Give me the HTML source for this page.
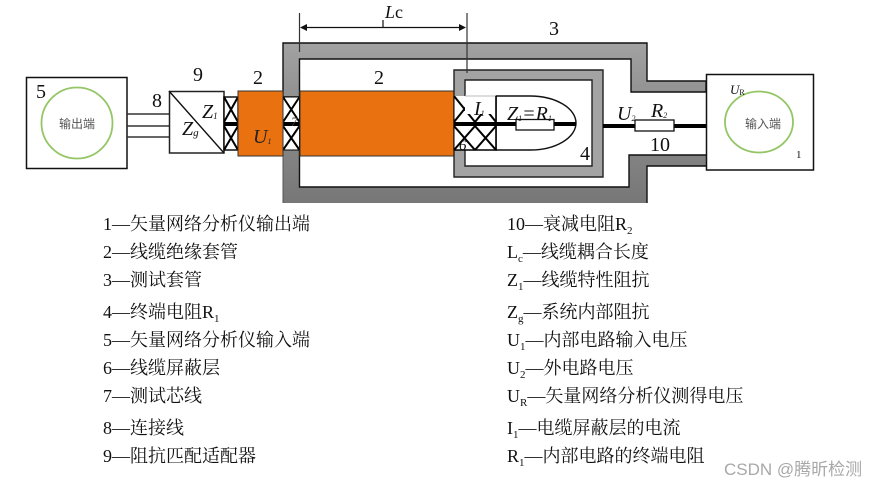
<!DOCTYPE html>
<html><head><meta charset="utf-8"><style>
html,body{margin:0;padding:0;background:#fff}
svg{display:block}
text{font-family:"Liberation Serif","Noto Serif CJK SC",serif;fill:#111}
.l text,.l{font-size:18px}
.i{font-style:italic}
</style></head><body>
<svg width="875" height="487" viewBox="0 0 875 487" xmlns="http://www.w3.org/2000/svg">
<defs>
<linearGradient id="gt" x1="0" y1="0" x2="0" y2="1"><stop offset="0" stop-color="#a2a2a2"/><stop offset="1" stop-color="#919191"/></linearGradient>
<linearGradient id="gb" x1="0" y1="0" x2="0" y2="1"><stop offset="0" stop-color="#848484"/><stop offset="1" stop-color="#777"/></linearGradient>
<clipPath id="c4"><rect x="454" y="96" width="42" height="54"/></clipPath>
</defs>

<!-- left box -->
<rect x="26.500" y="77.500" width="100.500" height="91" fill="#fff" stroke="#111" stroke-width="1.500"/>
<circle cx="77" cy="123" r="35.500" fill="#fff" stroke="#94c666" stroke-width="1.800"/>
<text x="77" y="128" text-anchor="middle" style="font-size:12px;font-family:'Noto Sans CJK SC',sans-serif;fill:#555">输出端</text>
<text x="36" y="98" style="font-size:20px">5</text>

<path d="M127 114H169M127 126H169M127 137H169" stroke="#333" stroke-width="1.600"/>
<text x="152" y="107" style="font-size:20px">8</text>

<!-- adapter -->
<rect x="169.500" y="91.500" width="54.500" height="61.500" fill="#fff" stroke="#222" stroke-width="1.500"/>
<path d="M169 91L224 153" stroke="#111" stroke-width="1.400"/>
<text x="193" y="81" style="font-size:20px">9</text>
<text x="202" y="118" class="i" style="font-size:20px">Z<tspan dy="1" style="font-size:9px">1</tspan></text>
<text x="182" y="135" class="i" style="font-size:20px">Z<tspan dy="1" style="font-size:11px">g</tspan></text>

<!-- left hatch -->
<rect x="224" y="97" width="14" height="53" fill="#fff" stroke="#000" stroke-width="1.400"/>
<path d="M224 97L238 122M238 97L224 122M224 126L238 150M238 126L224 150" stroke="#000" stroke-width="2"/>
<rect x="224" y="122" width="14" height="4" fill="#000"/>

<!-- outer tube top -->
<path d="M283 43H647V81H706V92H631V59H299.500V97H283Z" fill="url(#gt)" stroke="#111" stroke-width="1.400"/>
<!-- outer tube bottom -->
<path d="M283 150H299.500V187H629V155H706V166H647V203H283Z" fill="url(#gb)"/>
<path d="M299.500 150V187H629V155H706M706 166H647V203" fill="none" stroke="#111" stroke-width="1.400"/>
<path d="M283 150V203" stroke="#555" stroke-width="1"/>

<!-- hatch through wall -->
<rect x="283" y="97" width="16.500" height="53" fill="#fff" stroke="#000" stroke-width="1"/>
<path d="M283 97L299.500 122M299.500 97L283 122M283 126L299.500 150M299.500 126L283 150" stroke="#000" stroke-width="2"/>
<rect x="283" y="122" width="17" height="4" fill="#000"/>
<text x="291" y="126" class="i" style="font-size:13px;fill:#444">7</text>

<!-- orange -->
<rect x="238" y="91" width="45" height="65" fill="#e9710f" stroke="#333" stroke-width="1"/>
<rect x="300" y="91" width="154" height="65" fill="#e9710f" stroke="#333" stroke-width="1"/>
<text x="253" y="143" class="i" style="font-size:20px;fill:#222">U<tspan dy="1" style="font-size:8px">1</tspan></text>
<text x="374" y="84" style="font-size:20px">2</text>
<text x="253" y="84" style="font-size:20px">2</text>

<!-- box 4 -->
<path d="M454 70H603V177H454ZM465 80V166H592V80Z" fill="#a3a3a3" fill-rule="evenodd" stroke="#222" stroke-width="1.400"/>
<!-- bullet -->
<path d="M496 96H530A46 27 0 0 1 530 150H496Z" fill="#fff" stroke="#111" stroke-width="1.400"/>
<rect x="454" y="96" width="42" height="54" fill="#fff"/>
<g clip-path="url(#c4)">
<path d="M454 96L475 122M475 96L454 122M475 96L496 122M496 96L475 122M454 126L475 150M475 126L454 150M475 126L496 150M496 126L475 150" stroke="#000" stroke-width="2"/>
<rect x="465" y="96" width="31" height="18" fill="#fff"/>
</g>
<path d="M465 96H496" stroke="#bbb" stroke-width="1"/>
<path d="M454 150H496V96" fill="none" stroke="#000" stroke-width="1.600"/>
<path d="M454 96V150" stroke="#000" stroke-width="1"/>
<rect x="454" y="122" width="122" height="4" fill="#000"/>
<rect x="516" y="119.500" width="38" height="10.500" fill="#fff" stroke="#111" stroke-width="1.300"/>
<text x="474" y="115" class="i" style="font-size:20px">I<tspan dy="1" style="font-size:8px">1</tspan></text>
<text x="507" y="120" class="i" style="font-size:20px">Z<tspan dy="1" style="font-size:8px">1</tspan><tspan dy="-1">=R</tspan><tspan dy="1" style="font-size:8px">1</tspan></text>
<text x="459" y="150" class="i" style="font-size:15px">6</text>
<text x="580" y="160" style="font-size:20px">4</text>

<!-- wire -->
<rect x="603" y="124" width="103" height="4" fill="#000"/>
<rect x="635" y="120" width="39" height="11" fill="#fff" stroke="#111" stroke-width="1.300"/>
<text x="617" y="120" class="i" style="font-size:20px">U<tspan dy="1" style="font-size:8px">2</tspan></text>
<text x="651" y="117" class="i" style="font-size:20px">R<tspan dy="1" style="font-size:8px">2</tspan></text>
<text x="650" y="151" style="font-size:20px">10</text>

<!-- right box -->
<rect x="706.500" y="74.500" width="107" height="95.500" fill="#fff" stroke="#111" stroke-width="1.500"/>
<ellipse cx="759" cy="122" rx="34" ry="30.500" fill="#fff" stroke="#94c666" stroke-width="1.800"/>
<text x="763" y="128" text-anchor="middle" style="font-size:12px;font-family:'Noto Sans CJK SC',sans-serif;fill:#555">输入端</text>
<text x="730" y="94" class="i" style="font-size:13px">U<tspan dy="1" style="font-size:8px;font-style:normal">R</tspan></text>
<text x="796" y="158" style="font-size:11px">1</text>
<text x="549" y="35" style="font-size:20px">3</text>

<!-- dimension -->
<path d="M299.500 13V52M467 13V73" stroke="#333" stroke-width="1.200"/>
<path d="M302 27.500H464M383 20V27" stroke="#111" stroke-width="1.200"/>
<path d="M300 27.500L307 24L307 31ZM466 27.500L459 24L459 31Z" fill="#111"/>
<text x="385" y="18" style="font-size:18px"><tspan class="i">L</tspan>c</text>

<!-- legend left -->
<g class="l">
<text x="103" y="230">1—矢量网络分析仪输出端</text>
<text x="103" y="258">2—线缆绝缘套管</text>
<text x="103" y="286">3—测试套管</text>
<text x="103" y="318">4—终端电阻R<tspan dy="4" style="font-size:11px">1</tspan></text>
<text x="103" y="346">5—矢量网络分析仪输入端</text>
<text x="103" y="374">6—线缆屏蔽层</text>
<text x="103" y="402">7—测试芯线</text>
<text x="103" y="434">8—连接线</text>
<text x="103" y="462">9—阻抗匹配适配器</text>
</g>
<!-- legend right -->
<g class="l">
<text x="507" y="230">10—衰减电阻R<tspan dy="4" style="font-size:11px">2</tspan></text>
<text x="507" y="258">L<tspan dy="4" style="font-size:11px">c</tspan><tspan dy="-4">—线缆耦合长度</tspan></text>
<text x="507" y="286">Z<tspan dy="4" style="font-size:11px">1</tspan><tspan dy="-4">—线缆特性阻抗</tspan></text>
<text x="507" y="318">Z<tspan dy="4" style="font-size:11px">g</tspan><tspan dy="-4">—系统内部阻抗</tspan></text>
<text x="507" y="346">U<tspan dy="4" style="font-size:11px">1</tspan><tspan dy="-4">—内部电路输入电压</tspan></text>
<text x="507" y="374">U<tspan dy="4" style="font-size:11px">2</tspan><tspan dy="-4">—外电路电压</tspan></text>
<text x="507" y="402">U<tspan dy="4" style="font-size:11px">R</tspan><tspan dy="-4">—矢量网络分析仪测得电压</tspan></text>
<text x="507" y="434">I<tspan dy="4" style="font-size:11px">1</tspan><tspan dy="-4">—电缆屏蔽层的电流</tspan></text>
<text x="507" y="462">R<tspan dy="4" style="font-size:11px">1</tspan><tspan dy="-4">—内部电路的终端电阻</tspan></text>
</g>
<text x="724" y="475" style="font-size:17px;font-family:'Liberation Sans','Noto Sans CJK SC',sans-serif;fill:#a8a8a8">CSDN @腾昕检测</text>
</svg>
</body></html>
